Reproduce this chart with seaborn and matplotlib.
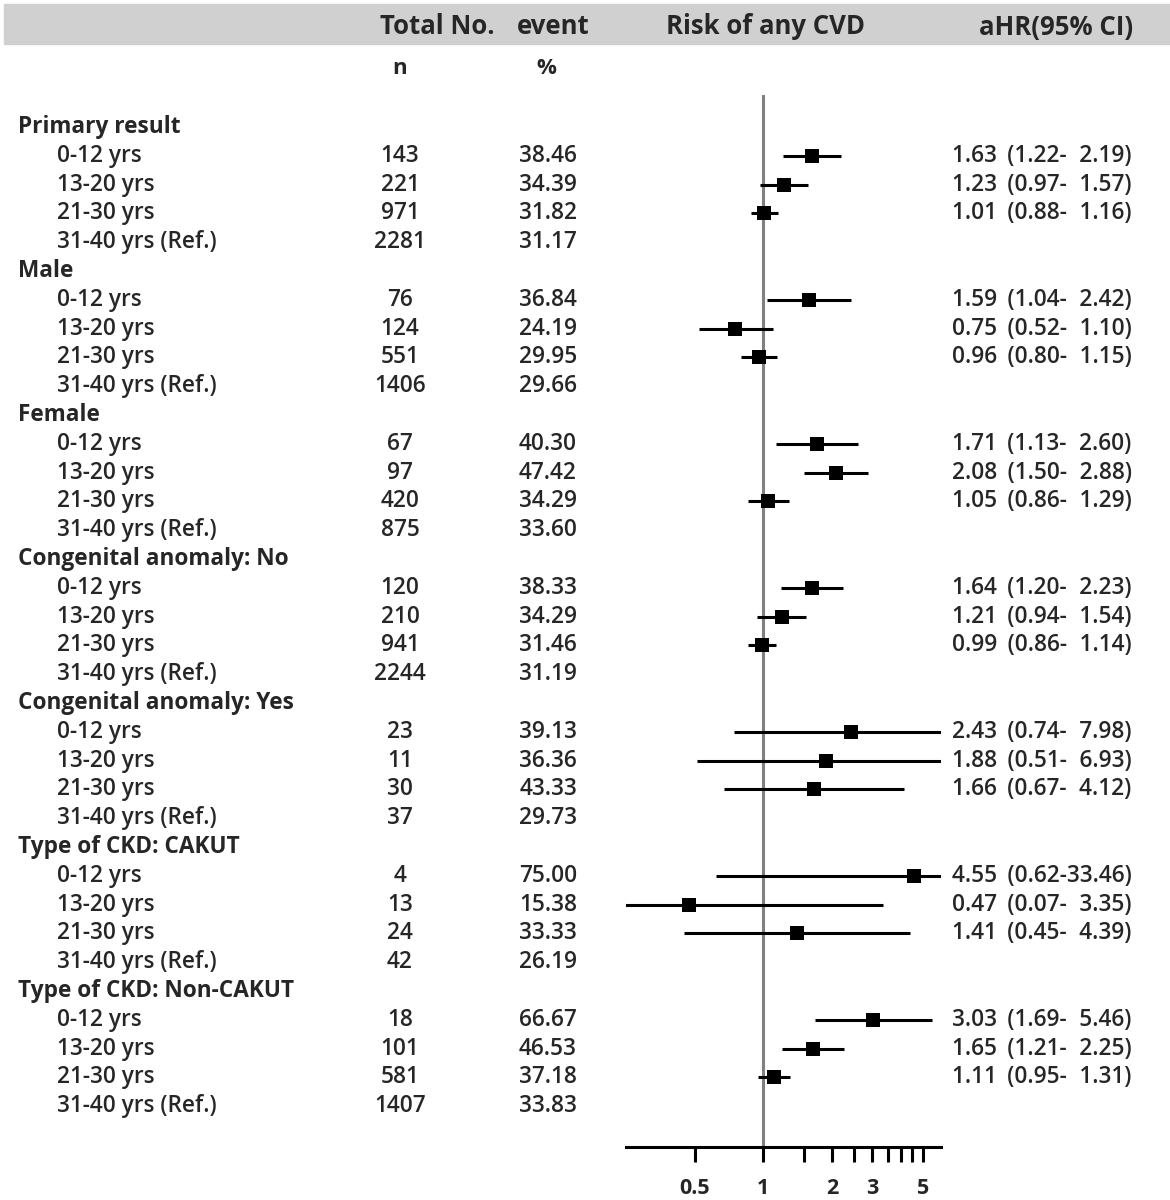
import numpy as np
import pandas as pd
import matplotlib
matplotlib.use("Agg")
import matplotlib.pyplot as plt
import matplotlib.transforms as mtransforms
from matplotlib.patches import Rectangle
import seaborn as sns

# subgroup data
groups = ["Primary result", "Male", "Female", "Congenital anomaly: No",
          "Congenital anomaly: Yes", "Type of CKD: CAKUT", "Type of CKD: Non-CAKUT"]
ages = ["0-12 yrs", "13-20 yrs", "21-30 yrs", "31-40 yrs (Ref.)"]

n_total = [[143, 221, 971, 2281], [76, 124, 551, 1406], [67, 97, 420, 875],
           [120, 210, 941, 2244], [23, 11, 30, 37], [4, 13, 24, 42],
           [18, 101, 581, 1407]]
event_pct = [[38.46, 34.39, 31.82, 31.17], [36.84, 24.19, 29.95, 29.66],
             [40.30, 47.42, 34.29, 33.60], [38.33, 34.29, 31.46, 31.19],
             [39.13, 36.36, 43.33, 29.73], [75.00, 15.38, 33.33, 26.19],
             [66.67, 46.53, 37.18, 33.83]]
hr = [[1.63, 1.23, 1.01], [1.59, 0.75, 0.96], [1.71, 2.08, 1.05],
      [1.64, 1.21, 0.99], [2.43, 1.88, 1.66], [4.55, 0.47, 1.41],
      [3.03, 1.65, 1.11]]
hr_lo = [[1.22, 0.97, 0.88], [1.04, 0.52, 0.80], [1.13, 1.50, 0.86],
         [1.20, 0.94, 0.86], [0.74, 0.51, 0.67], [0.62, 0.07, 0.45],
         [1.69, 1.21, 0.95]]
hr_hi = [[2.19, 1.57, 1.16], [2.42, 1.10, 1.15], [2.60, 2.88, 1.29],
         [2.23, 1.54, 1.14], [7.98, 6.93, 4.12], [33.46, 3.35, 4.39],
         [5.46, 2.25, 1.31]]

x_ticks = [0.5, 1, 1.5, 2, 2.5, 3, 3.5, 4, 4.5, 5]
x_ticklabels = ["0.5", "1", "", "2", "", "3", "", "", "", "5"]

# build one table, one line per row of the chart
rows = []
pos = 0
for g, grp in enumerate(groups):
    rows.append({"pos": pos, "label": grp, "header": True})
    pos += 1
    for a, age in enumerate(ages):
        r = {"pos": pos, "label": age, "header": False,
             "n": n_total[g][a], "pct": event_pct[g][a]}
        if a < 3:
            r.update(hr=hr[g][a], lo=hr_lo[g][a], hi=hr_hi[g][a])
        rows.append(r)
        pos += 1
df = pd.DataFrame(rows)
est = df.dropna(subset=["hr"])

sns.set_theme(style="white")
plt.rcParams["font.family"] = ["Open Sans", "DejaVu Sans"]

W, H = 1170, 1200
fig = plt.figure(figsize=(W / 100, H / 100), dpi=100)

# forest axes placed in pixel terms
x0, x1 = 626, 941
y_top, y_bot = 95, 1147
ax = fig.add_axes([x0 / W, 1 - y_bot / H, (x1 - x0) / W, (y_bot - y_top) / H])

row0, step = 127, 28.8
ax.set_ylim((y_bot - row0) / step, (y_top - row0) / step)
ax.set_xscale("log")
ax.set_xlim(0.25, 6)

ax.axvline(1, color="#808080", lw=2.2, zorder=1)
ax.hlines(est["pos"], est["lo"], est["hi"], color="black", lw=2.2, zorder=2)
sns.scatterplot(data=est, x="hr", y="pos", marker="s", s=100, color="black",
                edgecolor="black", linewidth=0, ax=ax, zorder=3)

for side in ["left", "right", "top"]:
    ax.spines[side].set_visible(False)
ax.spines["bottom"].set_linewidth(2.2)
ax.spines["bottom"].set_color("black")
ax.set_xticks(x_ticks)
ax.set_xticklabels(x_ticklabels)
ax.xaxis.set_minor_locator(matplotlib.ticker.NullLocator())
ax.tick_params(axis="x", which="major", direction="out", length=11, width=2.2,
               color="black", bottom=True, labelsize=15.5, pad=11)
for lab in ax.get_xticklabels():
    lab.set_fontweight("bold")
ax.set_yticks([])
ax.set_xlabel("")
ax.set_ylabel("")
ax.patch.set_alpha(0)

# header band
fig.patches.append(Rectangle((4 / W, 1 - 44 / H), (W - 4) / W, 40 / H,
                             transform=fig.transFigure, color="#d0d0d0", zorder=0))
hkw = dict(fontsize=18.5, fontweight="bold", va="center", transform=fig.transFigure)
fig.text(437 / W, 1 - 27 / H, "Total No.", ha="center", **hkw)
fig.text(553 / W, 1 - 27 / H, "event", ha="center", **hkw)
fig.text(765 / W, 1 - 27 / H, "Risk of any CVD", ha="center", **hkw)
fig.text(1056 / W, 1 - 27 / H, "aHR(95% CI)", ha="center", **hkw)
fig.text(400 / W, 1 - 68 / H, "n", ha="center", fontsize=16, fontweight="bold", va="center")
fig.text(546 / W, 1 - 68 / H, "%", ha="center", fontsize=16, fontweight="bold", va="center")

# table columns
tr = mtransforms.blended_transform_factory(fig.transFigure, ax.transData)
tkw = dict(fontsize=16.3, fontweight="semibold", va="center", transform=tr)
for _, r in df.iterrows():
    if r["header"]:
        ax.text(18 / W, r["pos"], r["label"], ha="left", fontsize=16.3,
                fontweight="bold", va="center", transform=tr)
        continue
    ax.text(57 / W, r["pos"], r["label"], ha="left", **tkw)
    ax.text(400 / W, r["pos"], f"{int(r['n'])}", ha="center", **tkw)
    ax.text(548 / W, r["pos"], f"{r['pct']:.2f}", ha="center", **tkw)
    if not np.isnan(r["hr"]):
        ax.text(952 / W, r["pos"],
                f"{r['hr']:.2f}\u2009 ({r['lo']:.2f}-{r['hi']:5.2f})".replace("- ", "-\u2007"),
                ha="left", **tkw)

fig.savefig("out.png", dpi=100)
